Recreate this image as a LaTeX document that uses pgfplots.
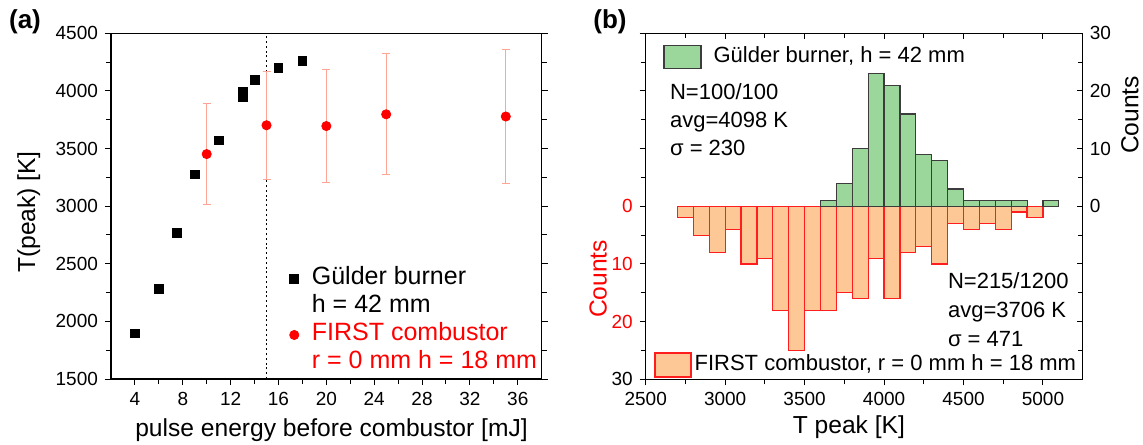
\documentclass[border=0pt]{standalone}
\usepackage{fontspec}
\setmainfont{Liberation Sans}
\usepackage{pgfplots}
\pgfplotsset{compat=1.18}

\definecolor{gbar}{RGB}{155,215,155}
\definecolor{gedge}{RGB}{60,60,60}
\definecolor{obar}{RGB}{253,200,150}
\definecolor{oedge}{RGB}{255,30,30}
\definecolor{errc}{RGB}{255,165,150}
\definecolor{fred}{RGB}{255,0,0}

\pgfplotsset{
  every axis/.append style={
    scale only axis, anchor=south west,
    /pgf/number format/assume math mode=true,
    /pgf/number format/1000 sep={},
    scaled ticks=false,
    tick label style={font=\fontsize{9.5}{11}\selectfont},
    label style={font=\fontsize{12.3}{14}\selectfont},
    axis line style={line width=0.6pt},
    every tick/.style={line width=0.5pt, black},
    major tick length=3pt, minor tick length=2.5pt,
  },
}

\begin{document}
\begin{tikzpicture}

% (a) peak temperature vs pulse energy
\begin{axis}[
    at={(55.5pt,-189.5pt)}, width=215.35pt, height=172.85pt,
    xmin=2, xmax=38, ymin=1500, ymax=4500,
    xtick={4,8,...,36}, minor x tick num=1,
    ytick={1500,2000,...,4500}, minor y tick num=1,
    xtick pos=bottom, ytick pos=both, tick align=outside,
    xlabel={pulse energy before combustor [mJ]},
    ylabel={T(peak) [K]},
    xlabel style={at={(axis description cs:0.512,-0.1475)}, anchor=center},
    ylabel style={at={(axis description cs:-0.191,0.483)}, anchor=center},
    legend cell align=left,
    legend style={at={(axis description cs:0.385,0.331)}, anchor=north west,
      draw=none, fill=none, inner sep=0pt, row sep=0pt, column sep=6pt,
      font=\fontsize{12.5}{14}\selectfont,
      nodes={inner sep=0.5pt, text height=9.5pt, text depth=3.5pt}},
  ]
  \addplot[black, dash pattern=on 1pt off 1.4pt, line width=0.6pt, forget plot]
    coordinates {(15,1500) (15,4500)};
  \addplot[only marks, mark=square*, mark size=2.2pt, black] coordinates {
    (4,1895) (6,2285) (7.5,2770) (9,3275) (11,3570)
    (13,3950) (13,3970) (13,3990) (14,4095) (16,4200) (18,4262)
  };
  \addlegendentry{Gülder burner}
  \addlegendimage{empty legend}
  \addlegendentry{h = 42 mm}
  \addplot[only marks, mark=*, mark size=2.3pt, fred,
    error bars/.cd, y dir=both, y explicit,
    error bar style={errc, line width=0.5pt},
    error mark options={errc, rotate=90, mark size=2pt, line width=0.5pt}]
    coordinates {
    (10,3452) +- (0,435)
    (15,3702) +- (0,470)
    (20,3695) +- (0,492)
    (25,3797) +- (0,525)
    (35,3778) +- (0,580)
  };
  \addlegendentry{\textcolor{fred}{FIRST combustor}}
  \addlegendimage{empty legend}
  \addlegendentry{\textcolor{fred}{r = 0 mm h = 18 mm}}
\end{axis}

% (b) histograms, FIRST combustor below the zero line
\begin{axis}[
    at={(322.85pt,-189.65pt)}, width=218.5pt, height=173pt,
    xmin=2500, xmax=5250, ymin=-30, ymax=30,
    xtick={2500,3000,...,5000}, minor x tick num=1,
    ytick={-30,-20,...,30},
    yticklabels={30,\textcolor{fred}{20},\textcolor{fred}{10},\textcolor{fred}{0},,,},
    minor y tick num=1,
    xtick pos=bottom, ytick pos=left, tick align=outside,
    xlabel={T peak [K]},
    ylabel={\textcolor{fred}{Counts}},
    xlabel style={at={(axis description cs:0.465,-0.138)}, anchor=center},
    ylabel style={at={(axis description cs:-0.109,0.29)}, anchor=center},
    legend cell align=left,
    legend style={at={(axis description cs:0.019,0.0789)}, anchor=north west,
      draw=none, fill=none, inner sep=0pt, row sep=0pt, column sep=1pt,
      font=\fontsize{11}{13}\selectfont,
      nodes={inner sep=0.5pt, text height=8pt, text depth=3pt}},
    legend image code/.code={\draw[#1] (0pt,-6pt) rectangle (18pt,6pt);},
  ]
  \addplot[ybar interval, fill=obar, draw=oedge, line width=0.6pt] coordinates {
    (2700,-2) (2800,-5) (2900,-8) (3000,-4) (3100,-10) (3200,-9)
    (3300,-18) (3400,-25) (3500,-18) (3600,-18) (3700,-15) (3800,-16)
    (3900,-9) (4000,-16) (4100,-8) (4200,-7) (4300,-10) (4400,-3)
    (4500,-4) (4600,-3) (4700,-4) (4800,-1) (4900,-2) (5000,-2)
  };
  \addlegendentry{FIRST combustor, r = 0 mm h = 18 mm}
\end{axis}

\begin{axis}[
    at={(322.85pt,-189.65pt)}, width=218.5pt, height=173pt,
    xmin=2500, xmax=5250, ymin=-30, ymax=30,
    xtick={2500,3000,...,5000}, minor x tick num=1, xticklabel=\empty,
    ytick={-30,-20,...,30}, yticklabels={,,,0,10,20,30},
    minor y tick num=1,
    xtick pos=top, ytick pos=right, yticklabel pos=right, tick align=inside,
    ylabel={Counts},
    ylabel style={at={(axis description cs:1.108,0.764)}, anchor=center},
    legend cell align=left,
    legend style={at={(axis description cs:0.0396,0.9676)}, anchor=north west,
      draw=none, fill=none, inner sep=0pt, row sep=0pt, column sep=5.5pt,
      font=\fontsize{11}{13}\selectfont,
      nodes={inner sep=0.5pt, text height=8pt, text depth=3pt}},
    legend image code/.code={\draw[#1] (0pt,-5.75pt) rectangle (18.5pt,5.75pt);},
  ]
  \addplot[ybar interval, fill=gbar, draw=gedge, line width=0.6pt] coordinates {
    (3600,1) (3700,4) (3800,10) (3900,23) (4000,21) (4100,16)
    (4200,9) (4300,8) (4400,3) (4500,1) (4600,1) (4700,1) (4800,1) (4900,1)
  };
  \addlegendentry{Gülder burner, h = 42 mm}
  \addplot[ybar interval, fill=gbar, draw=gedge, line width=0.6pt, forget plot]
    coordinates {(5000,1) (5100,1)};
  \begin{scope}[font=\fontsize{11}{13}\selectfont]
    \node[anchor=base west] at (axis cs:2609,18.52) {N=100/100};
    \node[anchor=base west] at (axis cs:2609,13.66) {avg=4098 K};
    \node[anchor=base west] at (axis cs:2609,8.81) {σ = 230};
    \node[anchor=base west] at (axis cs:4358,-14.17) {N=215/1200};
    \node[anchor=base west] at (axis cs:4358,-19.2) {avg=3706 K};
    \node[anchor=base west] at (axis cs:4358,-24.23) {σ = 471};
  \end{scope}
\end{axis}

\node[font=\bfseries\fontsize{13}{15}\selectfont] at (12.5pt,-11pt) {(a)};
\node[font=\bfseries\fontsize{13}{15}\selectfont] at (305pt,-11pt) {(b)};

\pgfresetboundingbox
\path[use as bounding box] (0,0) rectangle (571.5pt,-222pt);
\end{tikzpicture}
\end{document}
